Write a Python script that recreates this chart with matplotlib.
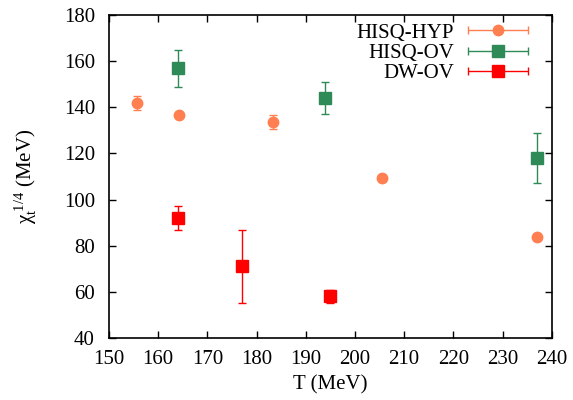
import numpy as np
import matplotlib
matplotlib.use("Agg")
import matplotlib.pyplot as plt
from matplotlib.legend_handler import HandlerErrorbar

plt.rcParams['font.family'] = ['Liberation Serif', 'DejaVu Serif']
plt.rcParams['mathtext.fontset'] = 'custom'
plt.rcParams['mathtext.rm'] = 'Liberation Serif'
plt.rcParams['mathtext.it'] = 'Liberation Serif:italic'

# HISQ-HYP
hyp_T = [155.7, 164.2, 183.3, 205.4, 237.0]
hyp_chi = [141.8, 136.8, 133.8, 109.5, 83.6]
hyp_err = [3.0, 0.6, 3.0, 0.6, 0.6]

# HISQ-OV
hov_T = [164.0, 194.0, 237.0]
hov_chi = [157.0, 144.0, 118.0]
hov_err = [8.0, 7.0, 11.0]

# DW-OV
dw_T = [164.0, 177.0, 195.0]
dw_chi = [92.0, 71.0, 58.0]
dw_err = [5.0, 16.0, 3.0]

c_hyp = '#ff7f50'
c_hov = '#2e8b57'
c_dw = '#ff0000'

fig = plt.figure(figsize=(5.73, 4.0), dpi=100)
ax = fig.add_axes([0.190, 0.155, 0.773, 0.8075])

kw = dict(capsize=3, elinewidth=1, capthick=1, linestyle='none')
ax.errorbar(hyp_T, hyp_chi, yerr=hyp_err, fmt='o', color=c_hyp, ms=7.5, **kw)
ax.errorbar(hov_T, hov_chi, yerr=hov_err, fmt='s', color=c_hov, ms=8, **kw)
ax.errorbar(dw_T, dw_chi, yerr=dw_err, fmt='s', color=c_dw, ms=8, **kw)

# legend proxies (NaN point so nothing is drawn) with horizontal error bars
nan = [np.nan]
h1 = ax.errorbar(nan, nan, xerr=[0], fmt='o', color=c_hyp, ms=7.5, **kw)
h2 = ax.errorbar(nan, nan, xerr=[0], fmt='s', color=c_hov, ms=8, **kw)
h3 = ax.errorbar(nan, nan, xerr=[0], fmt='s', color=c_dw, ms=8, **kw)
ax.legend([h1, h2, h3], ['HISQ-HYP', 'HISQ-OV', 'DW-OV'],
          loc='upper right', bbox_to_anchor=(0.948, 0.975), frameon=False,
          markerfirst=False, fontsize=15, handlelength=3.0,
          labelspacing=0.04, handletextpad=0.6, borderaxespad=0.0,
          borderpad=0.0,
          handler_map={type(h1): HandlerErrorbar(xerr_size=1.44)})

ax.set_xlim(150, 240)
ax.set_ylim(40, 180)
ax.set_xticks(np.arange(150, 241, 10))
ax.set_yticks(np.arange(40, 181, 20))
ax.tick_params(direction='in', top=True, right=True, length=5, width=1,
               labelsize=15)
ax.tick_params(axis='y', pad=10)
ax.tick_params(axis='x', pad=9)
for s in ax.spines.values():
    s.set_linewidth(1.2)

ax.set_xlabel('T (MeV)', fontsize=15, labelpad=4)
ax.set_ylabel(r'$\mathrm{\chi_t^{\ 1/4}}$ (MeV)', fontsize=15, labelpad=18)

fig.savefig('out.png', dpi=100)
